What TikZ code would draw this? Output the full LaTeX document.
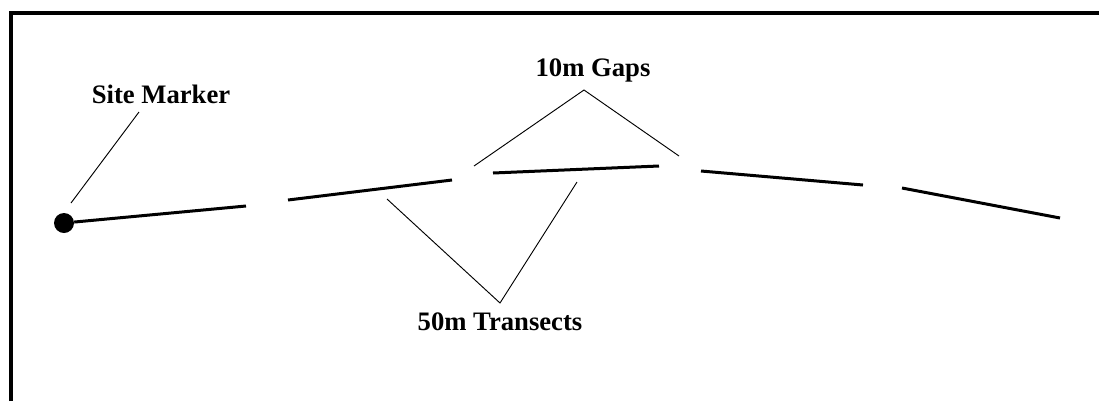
\documentclass[tikz,border=0pt]{standalone}
\usepackage{fontspec}
\setmainfont{Liberation Serif}

\begin{document}
\begin{tikzpicture}[x=0.75pt,y=-0.75pt,
  transect/.style={line width=2.25pt},
  leader/.style={line width=0.7pt},
  lbl/.style={anchor=base,inner sep=0pt,font=\fontsize{20}{24}\selectfont\bfseries}]
  \useasboundingbox (0,0) rectangle (1099,401);
  \draw[line width=2.4pt] (11,401)--(11,13)--(1099,13);
  % site marker and transects
  \node[circle,fill,inner sep=0pt,minimum size=15pt] (marker) at (64,223) {};
  \foreach \n/\xa/\ya/\xb/\yb in {1/75/221/246/206,2/288/200/452/180,3/493/173/659/166,4/701/171/863/185,5/902/188/1060/218}{
    \coordinate (t\n a) at (\xa,\ya);
    \coordinate (t\n b) at (\xb,\yb);
  }
  \draw[transect] (marker)--(t1b);
  \foreach \n in {2,3,4,5} \draw[transect] (t\n a)--(t\n b);
  % labels
  \node[lbl] (sitelbl) at (161,103) {Site Marker};
  \node[lbl] (gaplbl) at (593,76) {10m Gaps};
  \node[lbl] (translbl) at (500,330) {50m Transects};
  % leaders
  \coordinate (sm) at (71,203);
  \coordinate (smtop) at (139,112);
  \coordinate (gapapex) at (584,90);
  \coordinate (gap1) at (474,166);
  \coordinate (gap2) at (679,156);
  \coordinate (trapex) at (500,303);
  \coordinate (tr1) at (387,199);
  \coordinate (tr2) at (577,182);
  \draw[leader] (sm)--(smtop);
  \draw[leader] (gap1)--(gapapex)--(gap2);
  \draw[leader] (tr1)--(trapex)--(tr2);
\end{tikzpicture}
\end{document}
